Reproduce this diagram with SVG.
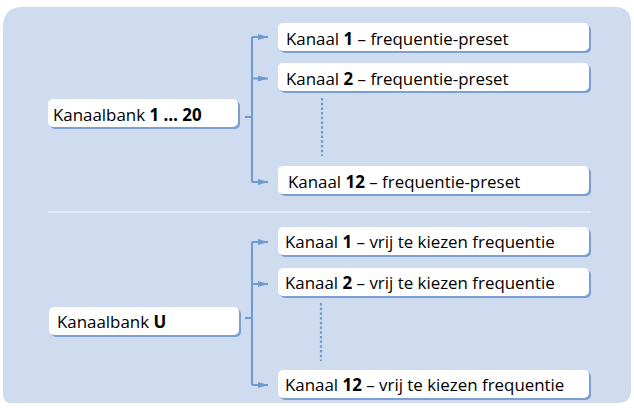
<svg xmlns="http://www.w3.org/2000/svg" width="634" height="408" viewBox="0 0 634 408">
  <defs>
    <style>
      .panel { fill: #cfdbef; }
      .sep { stroke: #e3eaf6; stroke-width: 2; fill: none; }
      .shadow { fill: #7c9fd2; }
      .box { fill: #ffffff; }
      .lbl { font-family: "Open Sans", "Noto Sans", sans-serif; font-size: 16.9px; fill: #000000; }
      .b { font-weight: bold; }
      .conn { stroke: #6f9ad0; stroke-width: 2; fill: none; }
      .dots { stroke: #6f9ad0; stroke-width: 2.2; fill: none; stroke-dasharray: 2.5 2.2; }
    </style>
    <marker id="arr" viewBox="0 0 10 6" refX="10" refY="3" markerWidth="10" markerHeight="6" markerUnits="userSpaceOnUse" orient="auto">
      <path d="M0,0 L10,3 L0,6 Z" fill="#6f9ad0"/>
    </marker>
  </defs>

  <path class="panel" d="M23,7 H615 Q631,7 631,23 V390 Q631,403 618,403 H12 Q3,403 3,394 V27 Q3,7 23,7 Z"/>
  <line class="sep" x1="48" y1="212" x2="591" y2="212"/>

  <g id="connectors">
    <path class="conn" d="M245,117 H252"/>
    <path class="conn" d="M252,37 V182"/>
    <path class="conn" marker-end="url(#arr)" d="M252,37 H268"/>
    <path class="conn" marker-end="url(#arr)" d="M252,78.5 H268"/>
    <path class="conn" marker-end="url(#arr)" d="M252,182 H268"/>
    <line class="dots" x1="322" y1="98" x2="322" y2="156"/>

    <path class="conn" d="M245,318 H252"/>
    <path class="conn" d="M252,242 V385"/>
    <path class="conn" marker-end="url(#arr)" d="M252,242 H268"/>
    <path class="conn" marker-end="url(#arr)" d="M252,284 H268"/>
    <path class="conn" marker-end="url(#arr)" d="M252,385 H268"/>
    <line class="dots" x1="321" y1="303" x2="321" y2="361"/>
  </g>

  <g id="bank-1-20">
    <rect class="shadow" x="50" y="101" width="190" height="28" rx="5"/>
    <rect class="box" x="48" y="99" width="190" height="28" rx="5"/>
    <text class="lbl" x="53" y="120.5">Kanaalbank <tspan class="b">1 … 20</tspan></text>
  </g>
  <g id="preset-1">
    <rect class="shadow" x="280" y="25" width="311" height="28" rx="5"/>
    <rect class="box" x="278" y="23" width="311" height="28" rx="5"/>
    <text class="lbl" x="286" y="44.5">Kanaal <tspan class="b">1</tspan> – frequentie-preset</text>
  </g>
  <g id="preset-2">
    <rect class="shadow" x="280" y="65" width="311" height="28" rx="5"/>
    <rect class="box" x="278" y="63" width="311" height="28" rx="5"/>
    <text class="lbl" x="286" y="84.5">Kanaal <tspan class="b">2</tspan> – frequentie-preset</text>
  </g>
  <g id="preset-12">
    <rect class="shadow" x="280" y="168" width="311" height="28" rx="5"/>
    <rect class="box" x="278" y="166" width="311" height="28" rx="5"/>
    <text class="lbl" x="288" y="187.5">Kanaal <tspan class="b">12</tspan> – frequentie-preset</text>
  </g>

  <g id="bank-u">
    <rect class="shadow" x="51" y="309" width="190" height="28" rx="5"/>
    <rect class="box" x="49" y="307" width="190" height="28" rx="5"/>
    <text class="lbl" x="57" y="327.5">Kanaalbank <tspan class="b">U</tspan></text>
  </g>
  <g id="free-1">
    <rect class="shadow" x="280" y="229" width="311" height="28" rx="5"/>
    <rect class="box" x="278" y="227" width="311" height="28" rx="5"/>
    <text class="lbl" x="285" y="247.5">Kanaal <tspan class="b">1</tspan> – vrij te kiezen frequentie</text>
  </g>
  <g id="free-2">
    <rect class="shadow" x="280" y="270" width="311" height="28" rx="5"/>
    <rect class="box" x="278" y="268" width="311" height="28" rx="5"/>
    <text class="lbl" x="285" y="288.5">Kanaal <tspan class="b">2</tspan> – vrij te kiezen frequentie</text>
  </g>
  <g id="free-12">
    <rect class="shadow" x="280" y="372" width="311" height="28" rx="5"/>
    <rect class="box" x="278" y="370" width="311" height="28" rx="5"/>
    <text class="lbl" x="285" y="390.5">Kanaal <tspan class="b">12</tspan> – vrij te kiezen frequentie</text>
  </g>
</svg>
